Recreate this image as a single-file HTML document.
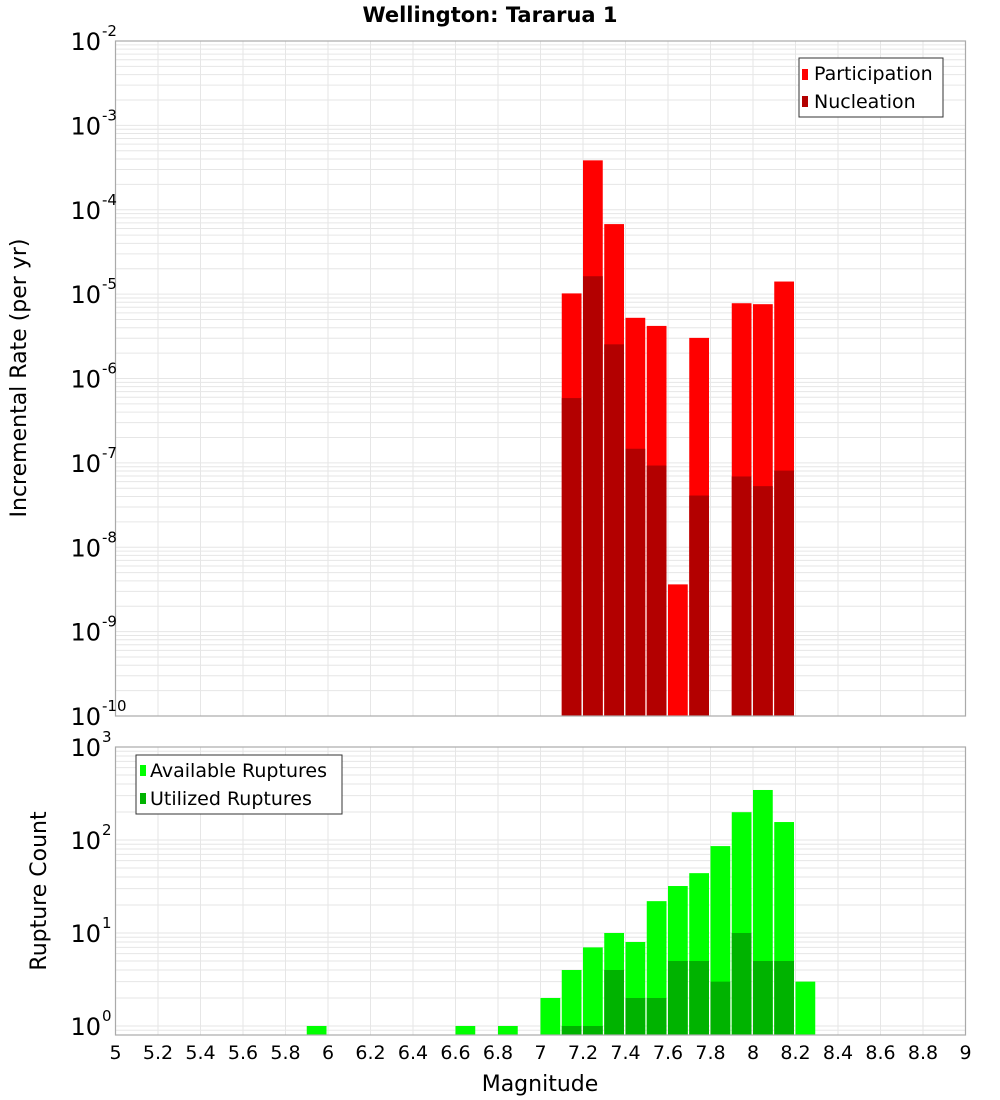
<!DOCTYPE html>
<html><head><meta charset="utf-8"><style>
html,body{margin:0;padding:0;background:#fff;}
svg{display:block;font-family:"Liberation Sans","DejaVu Sans",sans-serif;}
</style></head><body>
<svg id="chart" width="1000" height="1100" viewBox="0 0 1000 1100" xmlns="http://www.w3.org/2000/svg">
<text x="490" y="22" text-anchor="middle" font-size="21" font-weight="bold" font-family="DejaVu Sans, sans-serif">Wellington: Tararua 1</text>
<g id="topPlot"></g>
<g id="botPlot"></g>
<text transform="translate(26,378) rotate(-90)" text-anchor="middle" font-size="22" font-family="DejaVu Sans, sans-serif">Incremental Rate (per yr)</text>
<text transform="translate(46,891) rotate(-90)" text-anchor="middle" font-size="22" font-family="DejaVu Sans, sans-serif">Rupture Count</text>
<text x="540" y="1091" text-anchor="middle" font-size="22" font-family="DejaVu Sans, sans-serif">Magnitude</text>
<g id="legTop">
<rect x="799" y="58" width="144" height="59" fill="#fff" stroke="#333" stroke-width="1"/>
<rect x="802" y="69" width="6" height="11" fill="#ff0000"/>
<text x="814" y="80" font-size="19" font-family="DejaVu Sans, sans-serif">Participation</text>
<rect x="802" y="96" width="6" height="11" fill="#b30000"/>
<text x="814" y="108" font-size="19" font-family="DejaVu Sans, sans-serif">Nucleation</text>
</g>
<g id="legBot">
<rect x="136" y="755" width="206" height="59" fill="#fff" stroke="#333" stroke-width="1"/>
<rect x="140" y="765" width="6" height="11" fill="#00ff00"/>
<text x="150" y="777" font-size="19" font-family="DejaVu Sans, sans-serif">Available Ruptures</text>
<rect x="140" y="793" width="6" height="11" fill="#00b300"/>
<text x="150" y="805" font-size="19" font-family="DejaVu Sans, sans-serif">Utilized Ruptures</text>
</g>
</svg>
<script>
const rateMags = [7.1,7.2,7.3,7.4,7.5,7.6,7.7,7.9,8.0,8.1];
const participation = [1.02e-5,3.85e-4,6.76e-5,5.24e-6,4.2e-6,3.63e-9,3.03e-6,7.8e-6,7.6e-6,1.41e-5];
const nucleation = [5.86e-7,1.63e-5,2.54e-6,1.47e-7,9.3e-8,0,4.1e-8,6.9e-8,5.3e-8,8.1e-8];
const countMags = [5.9,6.6,6.8,7.0,7.1,7.2,7.3,7.4,7.5,7.6,7.7,7.8,7.9,8.0,8.1,8.2];
const available = [1,1,1,2,4,7,10,8,22,32,44,86,199,345,156,3];
const utilized = [0,0,0,0,1,1,4,2,2,5,5,3,10,5,5,0];
const xTicks = ["5","5.2","5.4","5.6","5.8","6","6.2","6.4","6.6","6.8","7","7.2","7.4","7.6","7.8","8","8.2","8.4","8.6","8.8","9"];
const rateExps = [-10,-9,-8,-7,-6,-5,-4,-3,-2];
const countExps = [0,1,2,3];

const NS="http://www.w3.org/2000/svg";
const X0=115.5,X1=965.5;
const xs=m=>X0+(m-5)/4*(X1-X0);
const T0=41,T1=716;
const yTop=v=>T1-(Math.log10(v)+10)/8*(T1-T0);
const B0=747,B1=1035,BMIN=Math.log10(0.8),BMAX=3;
const yBot=v=>B1-(Math.log10(v)-BMIN)/(BMAX-BMIN)*(B1-B0);
function mk(tag,attrs,parent){const e=document.createElementNS(NS,tag);for(const k in attrs)e.setAttribute(k,attrs[k]);parent.appendChild(e);return e;}
const svgEl=document.getElementById('chart');
const topG=document.getElementById('topPlot'), botG=document.getElementById('botPlot');

function grid(g,y0,y1,yf,lo,hi){
  mk('rect',{x:X0,y:y0,width:X1-X0,height:y1-y0,fill:'#fff'},g);
  for(let e=lo;e<=hi;e++)for(let k=1;k<10;k++){const v=k*Math.pow(10,e);const y=yf(v);if(y<y0-0.1||y>y1+0.1)continue;
    const l=mk('line',{x1:X0,x2:X1,y1:y,y2:y,stroke:'#e6e6e6','stroke-width':1},g);
    
    }
  for(let i=0;i<xTicks.length;i++){const x=xs(parseFloat(xTicks[i]));
    const l=mk('line',{x1:x,x2:x,y1:y0,y2:y1,stroke:'#e6e6e6','stroke-width':1},g);
    
    }
}
grid(topG,T0,T1,yTop,-10,-2);
grid(botG,B0,B1,yBot,-1,3);

function bar(g,m,v,yf,ybase,col,name){
  if(!(v>0))return;
  const x=xs(m),w=xs(m+0.1)-x-1.5,y=yf(v);
  const r=mk('rect',{x:x,y:y,width:w,height:ybase-y,fill:col},g);
  
  
}
for(let i=0;i<rateMags.length;i++){bar(topG,rateMags[i],participation[i],yTop,T1,'#ff0000','bar-participation');}
for(let i=0;i<rateMags.length;i++){bar(topG,rateMags[i],nucleation[i],yTop,T1,'#b30000','bar-nucleation');}
for(let i=0;i<countMags.length;i++){bar(botG,countMags[i],available[i],yBot,B1,'#00ff00','bar-available');}
for(let i=0;i<countMags.length;i++){bar(botG,countMags[i],utilized[i],yBot,B1,'#00b300','bar-utilized');}

mk('rect',{x:X0,y:T0,width:X1-X0,height:T1-T0,fill:'none',stroke:'#aaa','stroke-width':1.2},topG);
mk('rect',{x:X0,y:B0,width:X1-X0,height:B1-B0,fill:'none',stroke:'#aaa','stroke-width':1.2},botG);

function ylab(g,e,y,name){
  const t=mk('text',{x:101,y:y+9,'text-anchor':'end','font-size':24,'font-family':'DejaVu Sans, sans-serif'},g);
  t.textContent='10';
  
  
  const s=mk('text',{x:102,y:y-5,'font-size':15,'font-family':'DejaVu Sans, sans-serif'},g);
  s.textContent=String(e);
  
  
}
rateExps.forEach(e=>ylab(svgEl,e,yTop(Math.pow(10,e)),'y-tick-rate'));
countExps.forEach(e=>ylab(svgEl,e,yBot(Math.pow(10,e)),'y-tick-count'));
xTicks.forEach(t=>{const el=mk('text',{x:xs(parseFloat(t)),y:1059,'text-anchor':'middle','font-size':19,'font-family':'DejaVu Sans, sans-serif'},svgEl);
  el.textContent=t;
  
  });
svgEl.appendChild(document.getElementById('legTop'));
svgEl.appendChild(document.getElementById('legBot'));
</script>
</body></html>
